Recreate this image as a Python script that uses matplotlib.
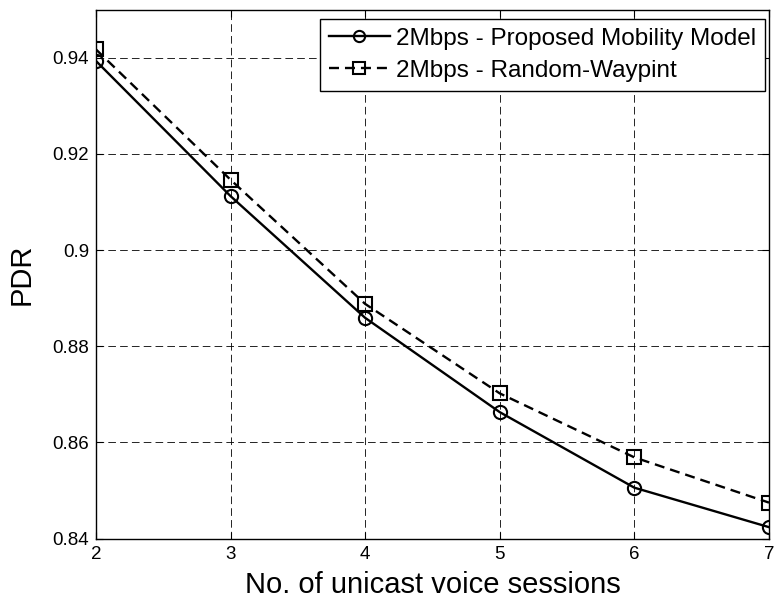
import matplotlib
matplotlib.use("Agg")
import matplotlib.pyplot as plt

plt.rcParams['font.family'] = ['Liberation Sans', 'DejaVu Sans']
plt.rcParams['lines.scale_dashes'] = False

sessions = [2, 3, 4, 5, 6, 7]
pdr_proposed = [0.9393, 0.9112, 0.8859, 0.8663, 0.8506, 0.8424]
pdr_waypoint = [0.9417, 0.9146, 0.8888, 0.8702, 0.8569, 0.8475]
label_proposed = "2Mbps - Proposed Mobility Model"
label_waypoint = "2Mbps - Random-Waypint"
x_ticks = [2, 3, 4, 5, 6, 7]
y_ticks = [0.84, 0.86, 0.88, 0.90, 0.92, 0.94]
y_tick_labels = ["0.84", "0.86", "0.88", "0.9", "0.92", "0.94"]

fig = plt.figure(figsize=(7.74, 6.04), dpi=100)
ax = fig.add_axes([96 / 774, 1 - 538.7 / 604, 673 / 774, 529.2 / 604])

ax.plot(sessions, pdr_proposed, color='black', lw=1.7, marker='o', ms=9.5,
        mfc='none', mec='black', mew=1.5, label=label_proposed)
ax.plot(sessions, pdr_waypoint, color='black', lw=1.7, ls=(0, (7.2, 4.3)),
        marker='s', ms=9.5, mfc='none', mec='black', mew=1.5, label=label_waypoint)

ax.set_xlim(2, 7)
ax.set_ylim(0.84, 0.95)
ax.set_xticks(x_ticks)
ax.set_yticks(y_ticks)
ax.set_yticklabels(y_tick_labels)

ax.grid(True, color='black', lw=0.6, ls=(0, (5.5, 3.0)))
ax.tick_params(direction='in', length=5, width=0.8, top=True, right=True,
               labelsize=13.5, pad=5)
for sp in ax.spines.values():
    sp.set_linewidth(1.0)

ax.set_xlabel("No. of unicast voice sessions", fontsize=21, labelpad=6)
ax.set_ylabel("PDR", fontsize=21, labelpad=12)

leg = ax.legend(loc='upper right', bbox_to_anchor=(1 - 4 / 673, 1 - 9 / 529.2),
                borderaxespad=0, fontsize=17.5, handlelength=2.5,
                handletextpad=0.25, borderpad=0.38, labelspacing=0.42,
                fancybox=False, framealpha=1, edgecolor='black',
                markerscale=0.85)
leg.get_frame().set_linewidth(1.0)

fig.savefig("out.png", dpi=100, facecolor='white')
